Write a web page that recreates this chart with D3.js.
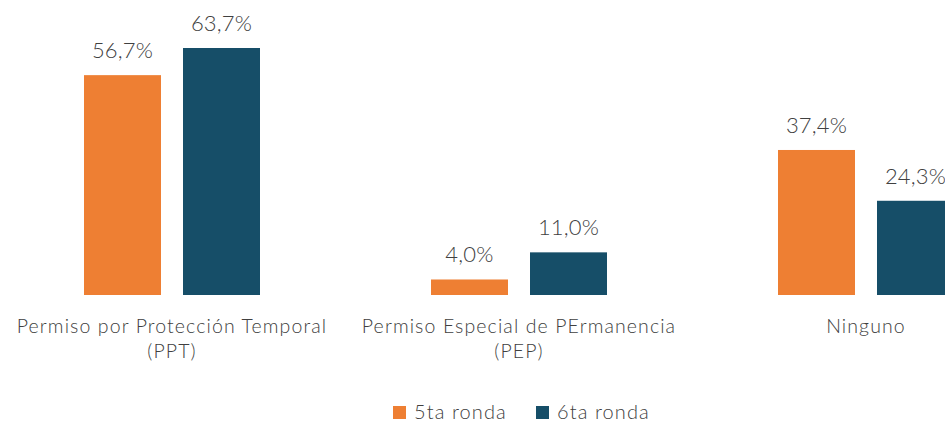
<!DOCTYPE html>
<html>
<head>
<meta charset="utf-8">
<script src="https://cdn.jsdelivr.net/npm/d3@7"></script>
<style>
  body { margin: 0; background: #fff; }
  svg { display: block; font-family: Lato, "Open Sans", sans-serif; font-weight: 300; }
</style>
</head>
<body>
<svg id="chart"></svg>
<script>
// data
const categories = [["Permiso por Protección Temporal", "(PPT)"], ["Permiso Especial de PErmanencia", "(PEP)"], ["Ninguno"]];
const series = ["5ta ronda", "6ta ronda"];
const ronda5 = [56.7, 4.0, 37.4];
const ronda6 = [63.7, 11.0, 24.3];
const colors = ["#EE7F33", "#164E68"];

const width = 945, height = 422;
const baseY = 295;

const svg = d3.select("#chart")
    .attr("width", width)
    .attr("height", height)
    .style("overflow", "hidden");

const rows = categories.map((c, i) => ({ key: i, label: c, values: [ronda5[i], ronda6[i]] }));

// the right side is cut off in the original
const x = d3.scaleBand()
    .domain(rows.map(d => d.key))
    .range([-1.5, 1039.5]);

// two bars of 77px with a 22px gap
const x1 = d3.scaleBand()
    .domain([0, 1])
    .range([x.bandwidth() / 2 - 88, x.bandwidth() / 2 + 88])
    .paddingInner(22 / 99);

const y = d3.scaleLinear()
    .domain([0, 63.7])
    .range([baseY, 48]);

const fmt = v => v.toFixed(1).replace(".", ",") + "%";

const groups = svg.append("g")
    .selectAll("g")
    .data(rows)
    .join("g")
    .attr("transform", d => `translate(${x(d.key)},0)`);

groups.selectAll("rect")
    .data(d => d.values.map((v, j) => ({ v, j })))
    .join("rect")
    .attr("x", d => x1(d.j))
    .attr("y", d => y(d.v))
    .attr("width", x1.bandwidth())
    .attr("height", d => baseY - y(d.v))
    .attr("fill", d => colors[d.j]);

groups.selectAll("text.val")
    .data(d => d.values.map((v, j) => ({ v, j })))
    .join("text")
    .attr("class", "val")
    .attr("x", d => x1(d.j) + x1.bandwidth() / 2)
    .attr("y", d => y(d.v) - 17)
    .attr("text-anchor", "middle")
    .attr("font-size", 22)
    .attr("letter-spacing", 0.2)
    .attr("fill", "#404040")
    .text(d => fmt(d.v));

groups.append("text")
    .attr("y", 333)
    .attr("text-anchor", "middle")
    .attr("font-size", 19.5)
    .attr("letter-spacing", 1.1)
    .attr("fill", "#404040")
    .selectAll("tspan")
    .data(d => d.label)
    .join("tspan")
    .attr("x", x.bandwidth() / 2)
    .attr("dy", (d, i) => i === 0 ? 0 : 25)
    .text(d => d);

// legend
const legend = svg.append("g");
const legendX = [393, 536];
series.forEach((s, i) => {
    legend.append("rect")
        .attr("x", legendX[i])
        .attr("y", 406)
        .attr("width", 13)
        .attr("height", 13)
        .attr("fill", colors[i]);
    legend.append("text")
        .attr("x", legendX[i] + 21)
        .attr("y", 419)
        .attr("font-size", 20)
        .attr("letter-spacing", 1.1)
        .attr("fill", "#404040")
        .text(s);
});
</script>
</body>
</html>
